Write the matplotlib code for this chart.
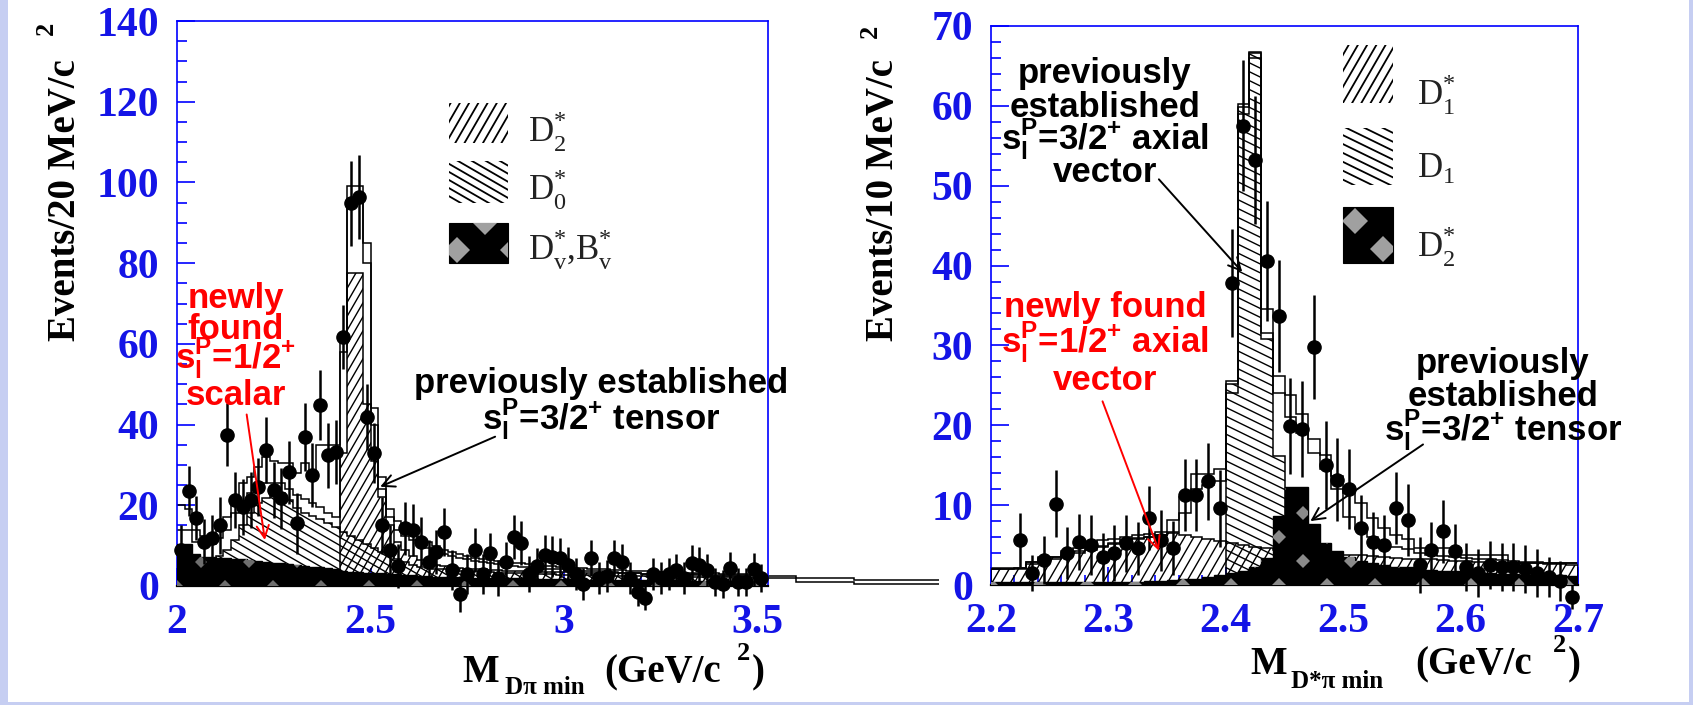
import numpy as np
import matplotlib
matplotlib.use("Agg")
import matplotlib.pyplot as plt
from matplotlib.collections import LineCollection, PolyCollection
from matplotlib.patches import Rectangle

plt.rcParams["font.family"] = ["Liberation Serif", "DejaVu Serif"]
plt.rcParams["mathtext.fontset"] = "custom"
plt.rcParams["mathtext.rm"] = "Liberation Serif"
plt.rcParams["mathtext.sf"] = "Liberation Sans:bold"
plt.rcParams["mathtext.bf"] = "Liberation Serif:bold"

# ###########################################################
# Data: left panel (D pi, 20 MeV bins from 2.00 to 3.52)
# ###########################################################
left_edges = np.round(np.arange(2.00, 3.5201, 0.02), 2)
left_centers = left_edges[:-1] + 0.01

left_data = [9, 23.5, 16.8, 11, 12, 15, 37.5, 21.3, 19.6, 21.3,
             24.5, 33.7, 23.8, 21.7, 28.2, 15.5, 36.9, 27.5, 44.8, 32.4,
             33.2, 61.7, 94.8, 96.4, 41.9,
             32.9, 15.0, 9.0, 5.0, 14.3, 13.9, 11.0, 6.0, 8.5, 13.4,
             4.0, -2.0, 3.0, 8.9, 3.0, 8.1, 2.0, 6.0, 12.2, 10.6,
             3.0, 5.0, 7.7, 7.3, 7.0,
             5.2, 3.0, 0.5, 6.9, 2.0, 2.5, 7.0, 6.0, 2.0, -1.5,
             -3.0, 2.9, 2.0, 3.0, 4.0, 2.0, 5.6, 5.1, 4.0, 1.0,
             0.5, 4.4, 1.0, 1.0, 4.1, 2.0]
left_err = [6, 6.2, 5.5, 5.5, 5.5, 7, 7.8, 7, 7, 7,
            7.2, 8.2, 7, 7.5, 7.8, 7.5, 8.5, 8, 8.7, 8,
            8, 8, 10.5, 10.5, 8.2,
            7.5, 7, 6, 5.5, 6.5, 6.5, 6, 5.5, 5.5, 6,
            5, 4.5, 5, 5.5, 5, 5, 4.5, 5, 5.5, 5.5,
            4.5, 4.5, 5, 5, 5,
            4.5, 4, 4, 4.5, 4, 4, 4.5, 4.5, 4, 3.5,
            3, 4, 4, 4, 4, 4, 4.5, 4.5, 4, 3.5,
            3.5, 4, 3.5, 3.5, 4, 3.5]
# fitted histograms (contents as drawn, each from zero)
left_total = [20, 19, 14, 12.5, 12.5, 14.6, 17, 22, 25.4, 27,
              29.5, 32, 31, 30.6, 30.6, 28, 30.6, 28.5, 35, 35,
              35, 62, 99.2, 99.2, 85,
              44, 27, 19, 16, 14, 13.5, 12, 11, 10, 9,
              8.5, 8, 7.5, 7, 6.8, 6.5, 6.2, 6, 5.8, 5.6,
              5.4, 5.2, 5, 4.9, 4.8,
              4.6, 4.5, 4.4, 4.3, 4.2, 4.1, 4.0, 3.9, 3.8, 3.7,
              3.6, 3.5, 3.4, 3.4, 3.3, 3.3, 3.2, 3.2, 3.1, 3.1,
              3.0, 3.0, 2.9, 2.9, 2.8, 2.8]
left_fit2 = [14, 14, 11, 10.5, 10.5, 12, 14, 18, 21, 23,
             24.5, 25.5, 25.5, 25.5, 24, 22.5, 21.5, 20.5, 19.5, 18,
             17, 58, 95, 95, 80,
             40, 24, 17, 14, 12.5, 11.5, 10.5, 9.5, 8.8, 8.0,
             7.5, 7.0, 6.6, 6.2, 5.9, 5.6, 5.4, 5.2, 5.0, 4.8,
             4.6, 4.4, 4.3, 4.2, 4.1,
             4.0, 3.9, 3.8, 3.7, 3.6, 3.5, 3.4, 3.3, 3.2, 3.1,
             3.0, 3.0, 2.9, 2.9, 2.8, 2.8, 2.7, 2.7, 2.6, 2.6,
             2.5, 2.5, 2.4, 2.4, 2.3, 2.3]
left_d2 = [0] * 21 + [33, 77.5, 77.5, 45,
           31, 22, 15, 11, 9, 7.5, 6.5, 5.8, 5.3, 5.0,
           4.7, 4.5, 4.3, 4.2, 4.1, 4.0, 3.9, 3.8, 3.7, 3.6,
           3.6, 3.5, 3.5, 3.4, 3.4,
           3.4, 3.3, 3.3, 3.3, 3.2, 3.2, 3.2, 3.1, 3.1, 3.1,
           3.0, 3.0, 3.0, 3.0, 2.9, 2.9, 2.9, 2.9, 2.8, 2.8,
           2.8, 2.8, 2.7, 2.7, 2.7, 2.7]
left_d0 = [0, 0, 0, 0, 0, 7.5, 8.9, 11.4, 15.0, 18.0,
           20.5, 21.8, 23.0, 23.0, 21.3, 19.3, 18.0, 17.4, 16.7, 15.5,
           14.6, 13.5, 12.5, 11.5, 10.5,
           9.5, 8.5, 7.6, 6.8, 6.0, 5.3, 4.8, 4.5, 4.3, 4.1,
           3.9, 3.8, 3.7, 3.6, 3.5, 3.4, 3.3, 3.2, 3.2, 3.1,
           3.0, 3.0, 2.9, 2.9, 2.8,
           2.8, 2.8, 2.7, 2.7, 2.7, 2.6, 2.6, 2.6, 2.5, 2.5,
           2.5, 2.5, 2.4, 2.4, 2.4, 2.4, 2.3, 2.3, 2.3, 2.3,
           2.2, 2.2, 2.2, 2.2, 2.1, 2.1]
left_bkg = [10.5, 10.5, 8.0, 7.2, 7.2, 7.0, 6.9, 6.8, 6.6, 6.4,
            6.2, 6.0, 5.8, 5.6, 5.4, 5.2, 5.0, 4.8, 4.6, 4.4,
            4.2, 3.6, 3.5, 3.4, 3.3,
            3.2, 3.1, 3.0, 2.9, 2.8, 2.7, 2.5, 2.4, 2.3, 2.3,
            2.2, 2.2, 2.1, 2.1, 2.0, 2.0, 2.0, 1.9, 1.9, 1.9,
            1.8, 1.8, 1.8, 1.7, 1.7,
            1.7, 1.7, 1.6, 1.6, 1.6, 1.6, 1.5, 1.5, 1.5, 1.5,
            1.5, 1.4, 1.4, 1.4, 1.4, 1.4, 1.3, 1.3, 1.3, 1.3,
            1.3, 1.2, 1.2, 1.2, 1.2, 1.2]
# histogram tail drawn past the frame
tail_edges = [3.52, 3.60, 3.75, 3.97]
tail_total = [2.4, 1.9, 1.5]
tail_fit2 = [2.0, 1.0, 0.4]

# ###########################################################
# Data: right panel (D* pi, 10 MeV bins from 2.20 to 2.70)
# ###########################################################
right_edges = np.round(np.arange(2.20, 2.7001, 0.01), 2)
right_centers = right_edges[:-1] + 0.005

right_data = [np.nan, np.nan, 5.6, 1.5, 3.1, 10.2, 4.0, 5.4, 5.0, 3.5,
              4.0, 5.2, 4.6, 8.4, 5.6, 4.6, 11.3, 11.3, 13.0, 9.6,
              37.8, 57.5, 53.2, 40.6, 33.7, 19.9, 19.5, 29.8, 15.0, 13.2,
              12.0, 7.1, 5.4, 5.0, 9.6, 8.1, 2.5, 4.4, 6.7, 4.2,
              2.3, 1.5, 2.5, 2.3, 2.3, 2.0, 1.5, 1.0, 0.5, -1.5]
right_err = [np.nan, np.nan, 3.4, 2.2, 3.0, 4.2, 3.3, 3.5, 3.8, 3.0,
             3.5, 3.6, 3.3, 4.0, 3.8, 3.4, 4.5, 4.5, 4.8, 4.8,
             6.8, 8.2, 8.0, 7.5, 7.0, 6.0, 6.0, 6.5, 5.5, 5.2,
             5.0, 4.2, 3.8, 3.8, 4.5, 4.5, 3.5, 3.5, 4.0, 3.5,
             3.0, 3.0, 3.0, 3.0, 3.0, 3.0, 3.0, 2.5, 2.5, 1.5]
right_total = [2.1, 2.1, 2.1, 2.9, 3.5, 3.5, 4.2, 4.6, 5.2, 5.6,
               5.7, 6.0, 6.2, 6.4, 6.6, 8.1, 11.0, 13.9, 13.9, 14.5,
               25.6, 60.2, 66.8, 34.5, 26.2, 23.8, 21.4, 18.3, 16.3, 13.7,
               11.5, 10.3, 8.4, 7.1, 6.3, 5.8, 4.6, 4.6, 4.6, 4.6,
               3.8, 3.8, 3.8, 3.7, 2.7, 2.7, 2.7, 2.7, 2.7, 2.7]
right_fit2 = [2.0, 2.0, 2.0, 2.6, 3.1, 3.3, 3.6, 4.0, 4.4, 4.8,
              5.1, 5.4, 5.7, 6.0, 6.2, 6.6, 9.0, 12.0, 12.5, 13.0,
              24.0, 59.0, 66.0, 31.5, 24.0, 21.0, 19.0, 16.5, 14.5, 12.0,
              8.5, 7.0, 6.0, 5.3, 4.8, 4.5, 4.0, 3.8, 3.6, 3.5,
              3.4, 3.3, 3.2, 3.1, 3.0, 2.9, 2.9, 2.8, 2.8, 2.7]
right_d1 = [0] * 20 + [25.2, 59.9, 66.6, 30.8, 16.1] + [0] * 25
right_d1s = [2.0, 2.0, 2.1, 2.9, 3.4, 3.5, 3.8, 4.3, 4.6, 4.9,
             5.3, 5.6, 5.9, 6.0, 6.2, 6.5, 6.2, 6.0, 5.8, 5.5,
             5.2, 5.0, 4.8, 4.6, 4.4, 4.3, 4.2, 4.1, 4.0, 3.9,
             3.8, 3.7, 3.6, 3.5, 3.4, 3.3, 3.3, 3.2, 3.1, 3.0,
             3.0, 2.9, 2.9, 2.8, 2.8, 2.7, 2.7, 2.6, 2.6, 2.5]
right_d2s = [0.4, 0.4, 0.4, 0.4, 0.4, 0.4, 0.4, 0.4, 0.4, 0.4,
             0.4, 0.4, 0.4, 0.5, 0.5, 0.6, 0.7, 0.8, 1.0, 1.2,
             1.5, 1.8, 2.3, 3.4, 8.6, 12.3, 12.3, 7.7, 5.3, 4.2,
             3.5, 3.0, 2.7, 2.5, 2.3, 2.2, 2.0, 1.9, 1.8, 1.7,
             1.6, 1.5, 1.5, 1.4, 1.4, 1.3, 1.3, 1.2, 1.2, 1.1]

left_yticks = [0, 20, 40, 60, 80, 100, 120, 140]
left_xticks = [2, 2.5, 3, 3.5]
left_xticklabels = ["2", "2.5", "3", "3.5"]
right_yticks = [0, 10, 20, 30, 40, 50, 60, 70]
right_xticks = [2.2, 2.3, 2.4, 2.5, 2.6, 2.7]
right_xticklabels = ["2.2", "2.3", "2.4", "2.5", "2.6", "2.7"]

# ###########################################################
# Figure and helpers
# ###########################################################
W, H = 1693, 705
fig = plt.figure(figsize=(W / 100, H / 100), dpi=100)
fig.patch.set_facecolor("white")

BLUE = "#0000ff"
TICKBLUE = "#1414e6"


def px_axes(x0, x1, ytop, ybot):
    return fig.add_axes([x0 / W, 1 - ybot / H, (x1 - x0) / W, (ybot - ytop) / H])


def hatch(ax, patch, angle, spacing, lw=1.0):
    # parallel lines in pixel space, clipped to a patch
    bb = ax.get_position()
    wpx, hpx = bb.width * W, bb.height * H
    t = np.deg2rad(angle)
    d = np.array([np.cos(t), np.sin(t)])
    nrm = np.array([-np.sin(t), np.cos(t)])
    L = np.hypot(wpx, hpx)
    c = np.array([wpx / 2, hpx / 2])
    segs = []
    for k in np.arange(-L / 2, L / 2 + spacing, spacing):
        p0 = (c + k * nrm - L * d) / [wpx, hpx]
        p1 = (c + k * nrm + L * d) / [wpx, hpx]
        segs.append([p0, p1])
    lc = LineCollection(segs, colors="black", linewidths=lw, transform=ax.transAxes, zorder=patch.get_zorder())
    ax.add_collection(lc, autolim=False)
    lc.set_clip_path(patch)


def diamonds(ax, patch, period=28, half=10, color="#8c8c8c"):
    bb = ax.get_position()
    wpx, hpx = bb.width * W, bb.height * H
    polys = []
    for i in range(int(wpx / period) + 2):
        for j in range(int(hpx / period) + 2):
            if (i + j) % 2:
                continue
            cx, cy = i * period, j * period
            pts = [(cx - half, cy), (cx, cy + half), (cx + half, cy), (cx, cy - half)]
            polys.append([(px / wpx, py / hpx) for px, py in pts])
    pc = PolyCollection(polys, facecolors=color, edgecolors="none", transform=ax.transAxes,
                        zorder=patch.get_zorder() + 0.01)
    ax.add_collection(pc, autolim=False)
    pc.set_clip_path(patch)


def style_axes(ax, xlim, ylim, xticks, xlabels, yticks, xminor, yminor):
    ax.set_xlim(*xlim)
    ax.set_ylim(*ylim)
    ax.set_xticks(xticks)
    ax.set_xticklabels(xlabels, fontsize=30, fontweight="bold", color=TICKBLUE)
    ax.set_yticks(yticks)
    ax.set_yticklabels([str(v) for v in yticks], fontsize=30, fontweight="bold", color=TICKBLUE)
    ax.xaxis.set_minor_locator(matplotlib.ticker.MultipleLocator(xminor))
    ax.yaxis.set_minor_locator(matplotlib.ticker.MultipleLocator(yminor))
    ax.tick_params(which="both", direction="in", color=BLUE, width=1.2, top=False, right=False)
    ax.tick_params(which="major", length=13, pad=13)
    ax.tick_params(which="minor", length=7)
    for side in ("left", "top", "right"):
        ax.spines[side].set_color(BLUE)
        ax.spines[side].set_linewidth(1.2)
    ax.spines["bottom"].set_color("black")
    ax.spines["bottom"].set_linewidth(1.6)
    ax.set_facecolor("white")


def outline(ax, vals, edges, lw=1.1, z=2):
    ax.stairs(vals, edges, baseline=None, color="black", linewidth=lw, zorder=z)


def filled(ax, vals, edges, z):
    return ax.stairs(vals, edges, baseline=0, fill=True, facecolor="none",
                     edgecolor="black", linewidth=1.1, zorder=z)


def data_points(ax, x, y, e):
    ax.errorbar(x, y, yerr=e, fmt="o", color="black", ms=9.5, elinewidth=1.8,
                capsize=0, zorder=10, clip_on=False)


def text_lines(ax, x, ys, lines, color):
    for y, s in zip(ys, lines):
        ax.text(x, y, s, color=color, ha="center", va="baseline", fontsize=25,
                fontweight="bold", family="Liberation Sans", zorder=12)


def arrow(ax, start, end, color):
    ax.annotate("", xy=end, xytext=start, zorder=12,
                arrowprops=dict(arrowstyle="->", color=color, lw=1.4, mutation_scale=22,
                                shrinkA=0, shrinkB=0))


def ax_frac(ax, X, Y):
    bb = ax.get_position()
    return ((X / W - bb.x0) / bb.width, ((1 - Y / H) - bb.y0) / bb.height)


def legend_box(ax, X0, X1, Y0, Y1, kind):
    fx0, fy1 = ax_frac(ax, X0, Y0)
    fx1, fy0 = ax_frac(ax, X1, Y1)
    if kind == "black":
        r = Rectangle((fx0, fy0), fx1 - fx0, fy1 - fy0, transform=ax.transAxes,
                      facecolor="black", edgecolor="black", lw=0.8, zorder=11)
        ax.add_patch(r)
        diamonds(ax, r, period=28, half=13, color="#a0a0a0")
    else:
        r = Rectangle((fx0, fy0), fx1 - fx0, fy1 - fy0, transform=ax.transAxes,
                      facecolor="white", edgecolor="none", zorder=11)
        ax.add_patch(r)
        hatch(ax, r, kind[0], kind[1], lw=1.3)


def legend_label(ax, X, Y, s):
    fx, fy = ax_frac(ax, X, Y)
    ax.text(fx, fy, s, transform=ax.transAxes, fontsize=25, ha="left", va="baseline",
            color="#222222", zorder=12)


# ###########################################################
# Left panel
# ###########################################################
axL = px_axes(177, 768, 21, 586)
style_axes(axL, (2.0, 3.527), (0, 140), left_xticks, left_xticklabels, left_yticks, 0.1, 5)

outline(axL, left_total, left_edges)
outline(axL, left_fit2, left_edges)
axL.stairs(tail_total, tail_edges, baseline=None, color="black", lw=1.1, clip_on=False)
axL.stairs(tail_fit2, tail_edges, baseline=None, color="black", lw=1.1, clip_on=False)
p = filled(axL, left_d2, left_edges, 3)
hatch(axL, p, 60, 7)
p = filled(axL, left_d0, left_edges, 4)
hatch(axL, p, -30, 7)
p = axL.stairs(left_bkg, left_edges, baseline=0, fill=True, facecolor="black",
               edgecolor="black", lw=1.0, zorder=5)
diamonds(axL, p, period=24, half=6, color="#6e6e6e")
data_points(axL, left_centers, left_data, left_err)

text_lines(axL, 2.152, [68.8, 61.2, 53.7, 44.9],
           ["newly", "found", r"$\mathsf{s}_\mathsf{l}^\mathsf{P}$=1/$\mathsf{2}^\mathsf{+}$", "scalar"], "red")
text_lines(axL, 3.096, [47.8, 38.6],
           ["previously established", r"$\mathsf{s}_\mathsf{l}^\mathsf{P}$=3/$\mathsf{2}^\mathsf{+}$ tensor"], "black")
arrow(axL, (2.18, 42.5), (2.227, 11.4), "red")
arrow(axL, (2.822, 37.0), (2.525, 24.6), "black")

legend_box(axL, 449, 508, 103, 143, (60, 8))
legend_box(axL, 449, 508, 161, 203, (-30, 7))
legend_box(axL, 449, 508, 223, 263, "black")
legend_label(axL, 528, 142, r"$\mathrm{D}_\mathrm{2}^\mathrm{*}$")
legend_label(axL, 528, 200, r"$\mathrm{D}_\mathrm{0}^\mathrm{*}$")
legend_label(axL, 528, 260, r"$\mathrm{D}_\mathrm{v}^\mathrm{*}$,$\mathrm{B}_\mathrm{v}^\mathrm{*}$")

# ###########################################################
# Right panel
# ###########################################################
axR = px_axes(991, 1578, 26, 585)
style_axes(axR, (2.2, 2.7), (0, 70), right_xticks, right_xticklabels, right_yticks, 0.02, 2)

outline(axR, right_total, right_edges)
outline(axR, right_fit2, right_edges)
p = filled(axR, right_d1, right_edges, 3)
hatch(axR, p, -26, 8)
p = filled(axR, right_d1s, right_edges, 4)
hatch(axR, p, 60, 8)
p = axR.stairs(right_d2s, right_edges, baseline=0, fill=True, facecolor="black",
               edgecolor="black", lw=1.0, zorder=5)
diamonds(axR, p, period=24, half=7, color="#8a8a8a")
data_points(axR, right_centers, right_data, right_err)

text_lines(axR, 2.297, [62.9, 58.6, 54.5, 50.5],
           ["previously", "established",
            r"$\mathsf{s}_\mathsf{l}^\mathsf{P}$=3/$\mathsf{2}^\mathsf{+}$ axial", "vector"], "black")
text_lines(axR, 2.297, [33.6, 29.1, 24.4],
           ["newly found", r"$\mathsf{s}_\mathsf{l}^\mathsf{P}$=1/$\mathsf{2}^\mathsf{+}$ axial", "vector"], "red")
text_lines(axR, 2.636, [26.5, 22.4, 18.0],
           ["previously", "established",
            r"$\mathsf{s}_\mathsf{l}^\mathsf{P}$=3/$\mathsf{2}^\mathsf{+}$ tensor"], "black")
arrow(axR, (2.343, 50.8), (2.414, 39.2), "black")
arrow(axR, (2.295, 23.0), (2.343, 4.3), "red")
arrow(axR, (2.568, 17.6), (2.472, 8.0), "black")

legend_box(axR, 1343, 1393, 45, 103, (60, 8))
legend_box(axR, 1343, 1393, 128, 185, (-26, 8))
legend_box(axR, 1343, 1393, 207, 263, "black")
legend_label(axR, 1417, 105, r"$\mathrm{D}_\mathrm{1}^\mathrm{*}$")
legend_label(axR, 1417, 177, r"$\mathrm{D}_\mathrm{1}$")
legend_label(axR, 1417, 257, r"$\mathrm{D}_\mathrm{2}^\mathrm{*}$")

# ###########################################################
# Axis titles (ROOT style, placed in figure pixels)
# ###########################################################
def ftext(X, Y, s, size, **kw):
    fig.text(X / W, 1 - Y / H, s, fontsize=size, fontweight="bold", va="baseline", **kw)


def ylabel(Xc, s):
    fig.text(Xc / W, 1 - 200 / H, s, fontsize=28, fontweight="bold", rotation=90,
             ha="center", va="center")


ylabel(66, "Events/20 MeV/c")
fig.text(46 / W, 1 - 28 / H, "2", fontsize=19, fontweight="bold", rotation=90, ha="center", va="center")
ylabel(883, "Events/10 MeV/c")
fig.text(870 / W, 1 - 31 / H, "2", fontsize=19, fontweight="bold", rotation=90, ha="center", va="center")

ftext(462, 682, "M", 28)
ftext(505, 694, "Dπ min", 18)
ftext(604, 682, "(GeV/c", 28)
ftext(737, 660, "2", 19)
ftext(752, 682, ")", 28)

ftext(1250, 674, "M", 28)
ftext(1291, 688, "D*π min", 18)
ftext(1415, 674, "(GeV/c", 28)
ftext(1553, 652, "2", 19)
ftext(1568, 674, ")", 28)

# light slide border
fig.patches.append(Rectangle((0, 0), 8 / W, 1, transform=fig.transFigure, facecolor="#c6cef2",
                             edgecolor="none", zorder=0))
fig.patches.append(Rectangle((0, 0), 1, 3 / H, transform=fig.transFigure, facecolor="#c6cef2",
                             edgecolor="none", zorder=0))
fig.patches.append(Rectangle((1 - 4 / W, 0), 4 / W, 1, transform=fig.transFigure, facecolor="#c6cef2",
                             edgecolor="none", zorder=0))

fig.savefig("out.png", dpi=100)
